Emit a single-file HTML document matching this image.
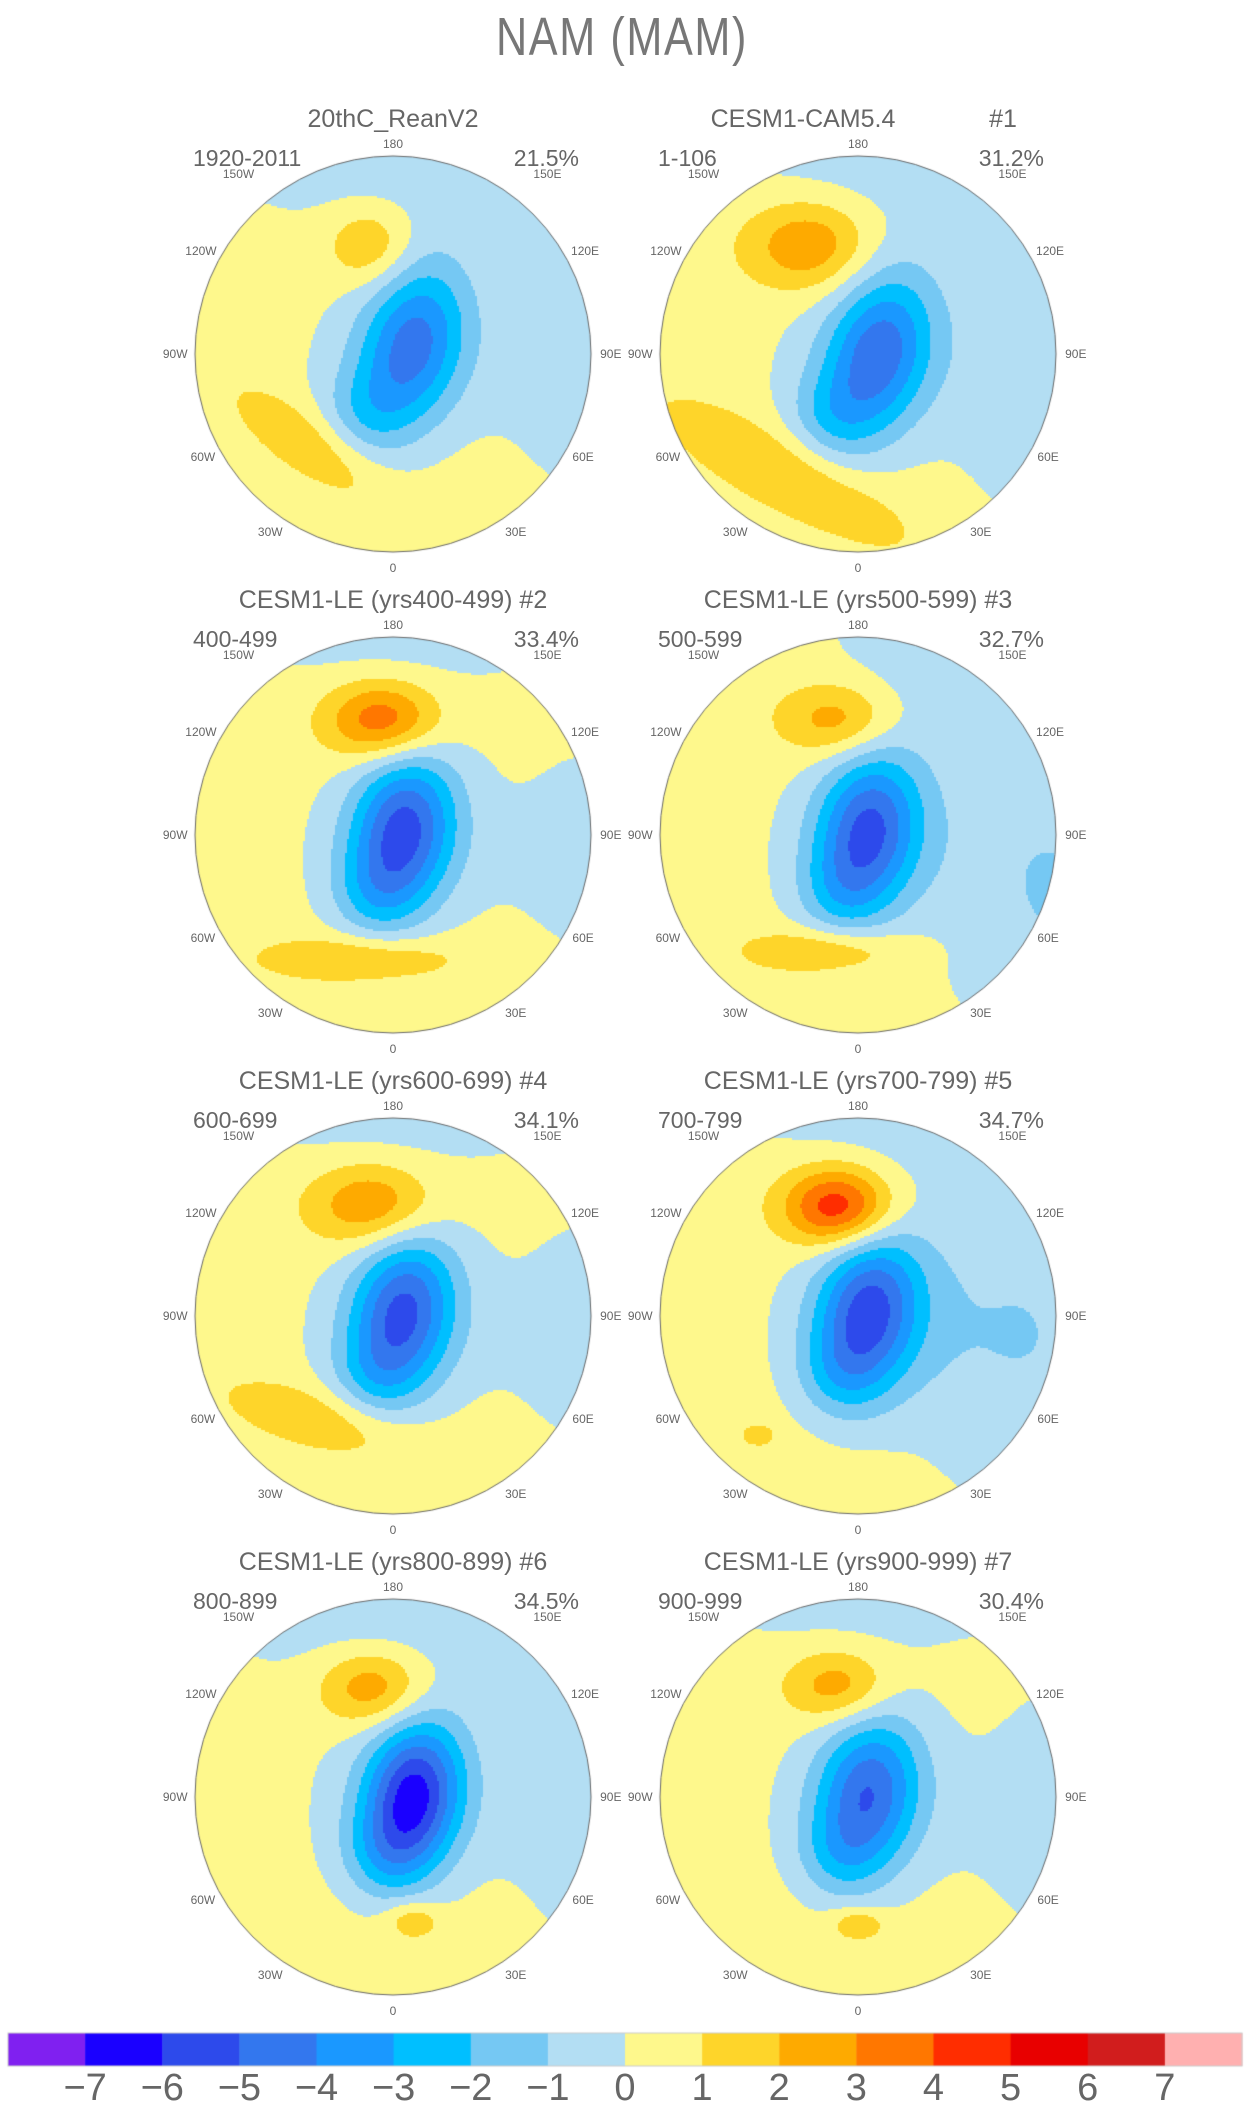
<!DOCTYPE html>
<html><head><meta charset="utf-8">
<style>
html,body{margin:0;padding:0;background:#fff;}
#root{position:relative;width:1244px;height:2113px;overflow:hidden;font-family:"Liberation Sans",sans-serif;color:#666;}
.t{position:absolute;white-space:nowrap;}
canvas{position:absolute;left:0;top:0;}
</style></head>
<body>
<div id="root">
<canvas id="cv" width="1244" height="2113"></canvas>
<div class="t" style="left:0;width:1244px;text-align:center;top:6px;font-size:54px;color:#777;transform:scaleX(0.8);font-weight:normal;letter-spacing:2px;">NAM (MAM)</div>
<div id="labels"></div>
</div>
<script>
// ---- data ----
const levels = [-7,-6,-5,-4,-3,-2,-1,0,1,2,3,4,5,6,7];
const levelColors = ["#8020f0","#1a00ff","#2d4aeb","#3377ee","#1a98ff","#00bfff","#75c8f3","#b3def3","#fef88c","#fed52a","#feaa00","#ff7700","#ff2d00","#e80000","#d11d1d","#ffb0b0"];
const tickLabels = ["−7","−6","−5","−4","−3","−2","−1","0","1","2","3","4","5","6","7"];
const panelTitles = ["20thC_ReanV2","CESM1-CAM5.4","CESM1-LE (yrs400-499) #2","CESM1-LE (yrs500-599) #3","CESM1-LE (yrs600-699) #4","CESM1-LE (yrs700-799) #5","CESM1-LE (yrs800-899) #6","CESM1-LE (yrs900-999) #7"];
const panelYears = ["1920-2011","1-106","400-499","500-599","600-699","700-799","800-899","900-999"];
const panelPct = ["21.5%","31.2%","33.4%","32.7%","34.1%","34.7%","34.5%","30.4%"];
const lonLabels = ["180","150W","150E","120W","120E","90W","90E","60W","60E","30W","30E","0"];
// anomaly blobs per panel: [x, y, amplitude, sx, sy, rotationDeg] in unit-disc coords
const blobs0 = [[0.1,-0.05,-4.2,0.18,0.3,15],[-0.15,0.3,-1.2,0.15,0.15,0],[0.05,0.05,-1.0,0.4,0.35,0],[-0.12,-0.55,1.8,0.15,0.14,0],[-0.42,0.45,1.4,0.3,0.11,35],[0,-1.15,-1.5,0.8,0.35,0],[1.0,0,-1.3,0.3,0.55,0]];
const blobs1 = [[0.1,0,-4.4,0.18,0.3,15],[-0.15,0.32,-1.3,0.15,0.15,0],[0.05,0.05,-1.0,0.4,0.35,0],[-0.25,-0.55,2.6,0.22,0.16,0],[-0.35,0.6,1.5,0.45,0.13,28],[0.2,-1.15,-1.4,0.7,0.35,0],[1.0,0.1,-1.5,0.35,0.6,0]];
const blobs2 = [[0.05,-0.02,-5.2,0.18,0.28,10],[-0.1,0.3,-1.3,0.15,0.15,0],[0.05,0.05,-1.0,0.4,0.35,0],[-0.05,-0.58,3.6,0.2,0.14,0],[-0.15,0.62,1.7,0.33,0.08,0],[0,-1.15,-1.3,0.7,0.3,0],[1.0,0.1,-0.9,0.3,0.5,0]];
const blobs3 = [[0.05,-0.02,-5.0,0.18,0.28,10],[-0.1,0.3,-1.2,0.15,0.15,0],[0.05,0.05,-1.0,0.4,0.35,0],[-0.1,-0.58,2.3,0.2,0.13,0],[-0.15,0.58,1.7,0.28,0.08,0],[1.0,0.3,-1.6,0.4,0.7,0],[0.55,-1.05,-1.4,0.5,0.35,0]];
const blobs4 = [[0.05,-0.02,-5.0,0.18,0.28,10],[-0.1,0.3,-1.2,0.15,0.15,0],[0.05,0.05,-1.0,0.4,0.35,0],[-0.1,-0.56,2.8,0.22,0.15,0],[-0.35,0.52,1.4,0.33,0.11,15],[0,-1.15,-1.3,0.7,0.3,0],[1.0,0.1,-1.0,0.3,0.5,0]];
const blobs5 = [[0.05,-0.02,-5.1,0.18,0.28,10],[-0.1,0.3,-1.2,0.15,0.15,0],[0.05,0.05,-1.0,0.4,0.35,0],[-0.1,-0.55,4.6,0.19,0.14,0],[-0.5,0.6,1.2,0.06,0.04,0],[0.9,0.1,-1.5,0.45,0.7,0],[0.2,-1.15,-1.3,0.7,0.3,0]];
const blobs6 = [[0.1,0,-6.2,0.17,0.27,10],[-0.05,0.3,-1.3,0.15,0.15,0],[0.05,0.05,-1.0,0.4,0.35,0],[-0.1,-0.55,2.7,0.19,0.14,0],[0.1,0.62,1.6,0.1,0.07,0],[0,-1.15,-1.6,0.8,0.4,0],[1.0,0.1,-1.1,0.3,0.55,0]];
const blobs7 = [[0.05,-0.02,-4.6,0.18,0.28,10],[-0.1,0.3,-1.2,0.15,0.15,0],[0.05,0.05,-1.0,0.4,0.35,0],[-0.1,-0.56,2.4,0.18,0.13,0],[0.0,0.64,1.6,0.1,0.06,0],[0,-1.15,-1.3,0.7,0.3,0],[1.0,0.1,-1.0,0.3,0.55,0]];
const allBlobs = [blobs0,blobs1,blobs2,blobs3,blobs4,blobs5,blobs6,blobs7];

// ---- layout ----
const colX = [393, 858], rowY = [354, 835, 1316, 1797], R = 198, BASE = 0.6;
const lonPos = [[0,-1.06],[-0.78,-0.91],[0.78,-0.91],[-0.97,-0.52],[0.97,-0.52],[-1.1,0],[1.1,0],[-0.96,0.52],[0.96,0.52],[-0.62,0.9],[0.62,0.9],[0,1.08]];

const cv = document.getElementById('cv'), ctx = cv.getContext('2d');
const lab = document.getElementById('labels');
function addText(txt, x, y, size, name, align){
  const d = document.createElement('div');
  d.className = 't';
  
  
  d.textContent = txt;
  d.style.fontSize = size + 'px';
  d.style.top = (y - size*0.6) + 'px';
  if (align === 'center') { d.style.left = (x - 300) + 'px'; d.style.width = '600px'; d.style.textAlign = 'center'; }
  else if (align === 'right') { d.style.left = (x - 600) + 'px'; d.style.width = '600px'; d.style.textAlign = 'right'; }
  else d.style.left = x + 'px';
  lab.appendChild(d);
}
function field(b, u, v){
  let s = BASE;
  for (const [x,y,a,sx,sy,rot] of b){
    const t = rot*Math.PI/180, dx = u-x, dy = v-y;
    const p = dx*Math.cos(t)+dy*Math.sin(t), q = -dx*Math.sin(t)+dy*Math.cos(t);
    s += a*Math.exp(-(p*p)/(2*sx*sx)-(q*q)/(2*sy*sy));
  }
  return s;
}
function colorFor(v){
  let i = 0;
  while (i < levels.length && v >= levels[i]) i++;
  return levelColors[i];
}
const step = 2;
for (let p = 0; p < 8; p++){
  const cx = colX[p%2], cy = rowY[Math.floor(p/2)], b = allBlobs[p];
  ctx.save();
  ctx.beginPath(); ctx.arc(cx, cy, R, 0, 2*Math.PI); ctx.clip();
  for (let y = cy-R; y < cy+R; y += step){
    for (let x = cx-R; x < cx+R; x += step){
      const u = (x+1-cx)/R, v = (y+1-cy)/R;
      if (u*u+v*v > 1.02) continue;
      ctx.fillStyle = colorFor(field(b,u,v));
      ctx.fillRect(x, y, step, step);
    }
  }
  ctx.restore();
  ctx.beginPath(); ctx.arc(cx, cy, R, 0, 2*Math.PI);
  ctx.strokeStyle = '#666'; ctx.lineWidth = 1; ctx.stroke();
  if (p === 1){
    addText(panelTitles[p], cx-55, cy-234, 25, 'panel-title', 'center');
    addText('#1', cx+145, cy-234, 25, 'panel-member-number', 'center');
  } else {
    addText(panelTitles[p], cx, cy-234, 25, 'panel-title', 'center');
  }
  addText(panelYears[p], cx-200, cy-195, 23, 'panel-years', 'left');
  addText(panelPct[p], cx+186, cy-195, 23, 'panel-percent', 'right');
  for (let k = 0; k < lonLabels.length; k++){
    addText(lonLabels[k], cx + lonPos[k][0]*R, cy + lonPos[k][1]*R, 12, 'longitude-label', 'center');
  }
}
// colorbar
const cbX0 = 8, cbX1 = 1242, cbY = 2033, cbH = 33;
const bw = (cbX1-cbX0)/levelColors.length;
for (let i = 0; i < levelColors.length; i++){
  ctx.fillStyle = levelColors[i];
  ctx.fillRect(cbX0 + i*bw, cbY, bw+0.5, cbH);
}
ctx.strokeStyle = '#ccc'; ctx.strokeRect(cbX0, cbY, cbX1-cbX0, cbH);
for (let i = 0; i < tickLabels.length; i++){
  addText(tickLabels[i], cbX0 + (i+1)*bw, 2090, 38, 'colorbar-tick-label', 'center');
}
</script>
</body></html>
